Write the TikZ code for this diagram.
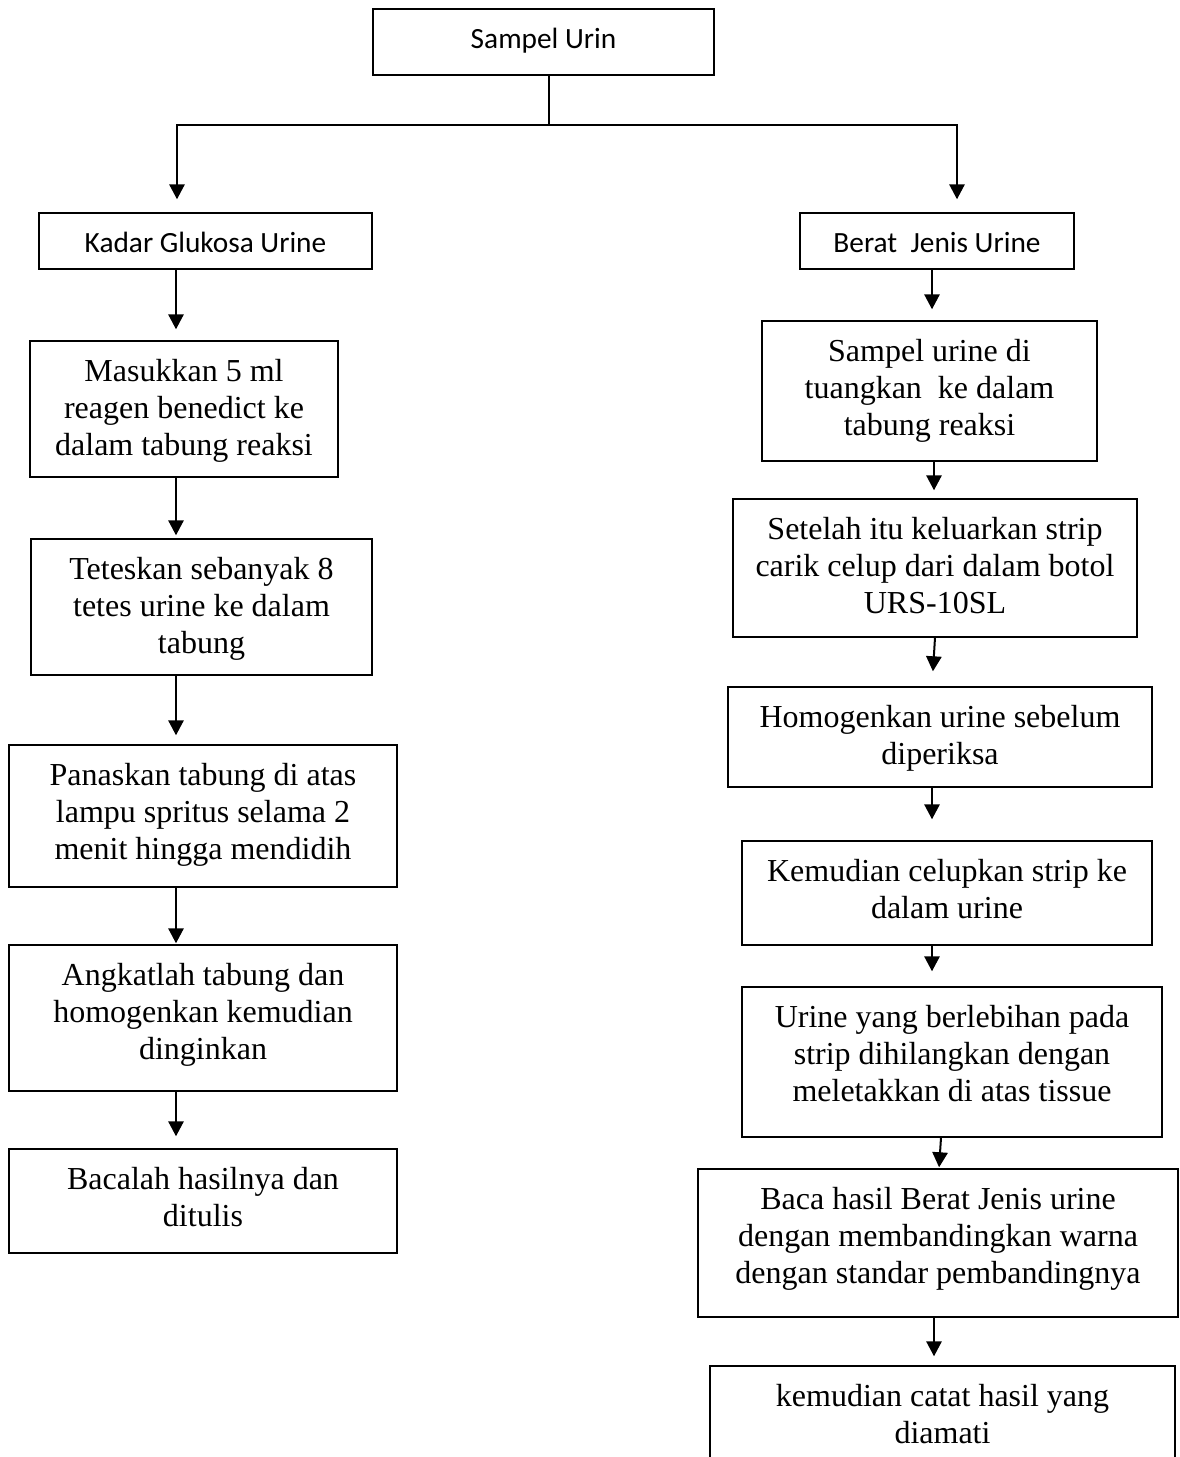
\documentclass[tikz,border=0pt]{standalone}
\usepackage{fontspec}
\setmainfont{Liberation Serif}
\newfontfamily\calib{Carlito}
\usetikzlibrary{arrows.meta}
\tikzset{
  box/.style={draw, line width=1.1pt, inner sep=0pt},
  arr/.style={line width=1.5pt, -{Triangle[length=11.25pt,width=11.5pt]}},
  ln/.style={line width=1.5pt},
}
% #1 name, #2 left, #3 top, #4 right, #5 bottom (px), #6 text
\newcommand\serifbox[6]{%
  \node[box] (#1) at ({(#2+#4)/2},{(#3+#5)/2})
  {\parbox[c][\dimexpr(#5pt-#3pt)*3/4\relax][t]{\dimexpr(#4pt-#2pt)*3/4\relax}{\centering\fontsize{24pt}{27.75pt}\selectfont\rule{0pt}{30pt}#6\par}};}
\newcommand\sansbox[6]{%
  \node[box] (#1) at ({(#2+#4)/2},{(#3+#5)/2})
  {\parbox[c][\dimexpr(#5pt-#3pt)*3/4\relax][t]{\dimexpr(#4pt-#2pt)*3/4\relax}{\centering\calib\fontsize{22pt}{26pt}\selectfont\rule{0pt}{29.25pt}#6\par}};}
\begin{document}
\begin{tikzpicture}[x=0.75pt,y=-0.75pt]
\useasboundingbox (0,0) rectangle (1180,1457);
\clip (0,0) rectangle (1180,1457);

% header boxes
\sansbox{top}{373}{9}{714}{75}{Sampel Urin}
\sansbox{kadar}{39}{213}{372}{269}{Kadar Glukosa Urine}
\sansbox{berat}{800}{213}{1074}{269}{Berat\ \ Jenis Urine}

% left column
\serifbox{b1}{30}{341}{338}{477}{Masukkan 5 ml\\reagen benedict ke\\dalam tabung reaksi}
\serifbox{b2}{31}{539}{372}{675}{Teteskan sebanyak 8\\tetes urine ke dalam\\tabung}
\serifbox{b3}{9}{745}{397}{887}{Panaskan tabung di atas\\lampu spritus selama 2\\menit hingga mendidih}
\serifbox{b4}{9}{945}{397}{1091}{Angkatlah tabung dan\\homogenkan kemudian\\dinginkan}
\serifbox{b5}{9}{1149}{397}{1253}{Bacalah hasilnya dan\\ditulis}

% right column
\serifbox{r1}{762}{321}{1097}{461}{Sampel urine di\\tuangkan\ \ ke dalam\\tabung reaksi}
\serifbox{r2}{733}{499}{1137}{637}{Setelah itu keluarkan strip\\carik celup dari dalam botol\\URS-10SL}
\serifbox{r3}{728}{687}{1152}{787}{Homogenkan urine sebelum\\diperiksa}
\serifbox{r4}{742}{841}{1152}{945}{Kemudian celupkan strip ke\\dalam urine}
\serifbox{r5}{742}{987}{1162}{1137}{Urine yang berlebihan pada\\strip dihilangkan dengan\\meletakkan di atas tissue}
\serifbox{r6}{698}{1169}{1178}{1317}{Baca hasil Berat Jenis urine\\dengan membandingkan warna\\dengan standar pembandingnya}
\serifbox{r7}{710}{1366}{1175}{1500}{kemudian catat hasil yang\\diamati}

% helper coordinates
\coordinate (J) at (549,125);
\coordinate (xA) at (177,0);
\coordinate (xB) at (957,0);
\coordinate (xL) at (176,0);
\coordinate (xR) at (932,0);
\coordinate (xR2) at (934,0);
\coordinate (s23) at (935,0);
\coordinate (s56) at (941,0);
\coordinate (e56) at (939,0);

% split from top
\draw[ln] (top.south -| J) -- (J);
\draw[arr, shorten >=9.75pt] (J) -| (kadar.north -| xA);
\draw[arr, shorten >=9.75pt] (J) -| (berat.north -| xB);

% left connectors
\draw[arr, shorten >=8.25pt] (kadar.south -| xL) -- (b1.north -| xL);
\draw[arr, shorten >=2.25pt] (b1.south -| xL) -- (b2.north -| xL);
\draw[arr, shorten >=6.75pt] (b2.south -| xL) -- (b3.north -| xL);
\draw[arr, shorten >=0.75pt] (b3.south -| xL) -- (b4.north -| xL);
\draw[arr, shorten >=9pt] (b4.south -| xL) -- (b5.north -| xL);

% right connectors
\draw[arr, shorten >=8.25pt] (berat.south -| xR) -- (r1.north -| xR);
\draw[arr, shorten >=6pt] (r1.south -| xR2) -- (r2.north -| xR2);
\draw[arr, shorten >=11.25pt] (r2.south -| s23) -- (r3.north -| xR);
\draw[arr, shorten >=15.75pt] (r3.south -| xR) -- (r4.north -| xR);
\draw[arr, shorten >=11.25pt] (r4.south -| xR) -- (r5.north -| xR);
\draw[arr, shorten >=0.75pt] (r5.south -| s56) -- (r6.north -| e56);
\draw[arr, shorten >=6.75pt] (r6.south -| xR2) -- (r7.north -| xR2);
\end{tikzpicture}
\end{document}
